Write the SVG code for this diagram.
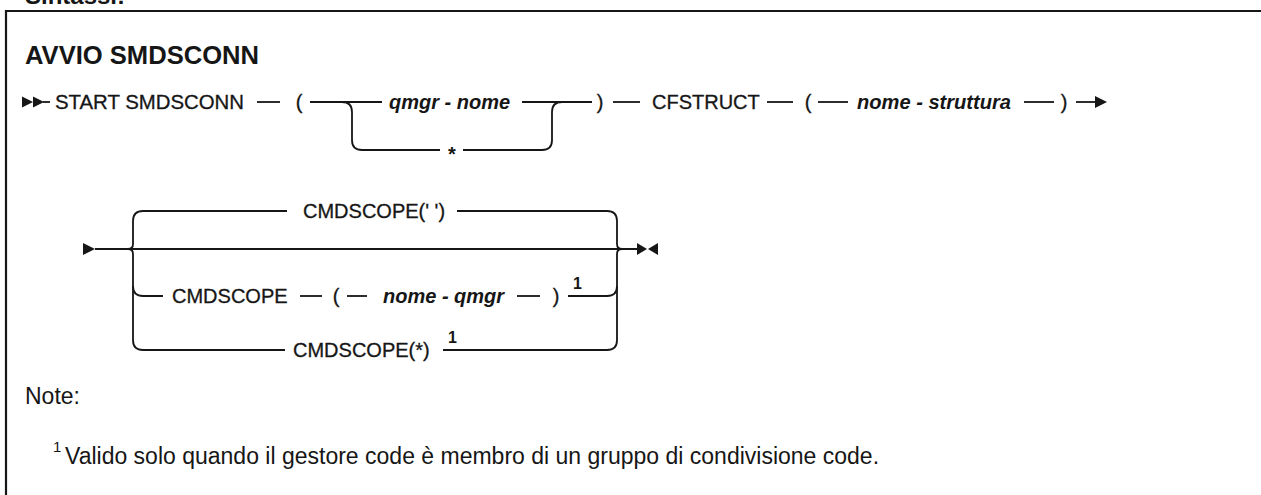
<svg xmlns="http://www.w3.org/2000/svg" width="1261" height="495" viewBox="0 0 1261 495">
<style>
text{font-family:"Liberation Sans",Arial,sans-serif;fill:#161616}
.t{font-size:20px;stroke:#161616;stroke-width:0.3}
.v{font-size:20px;font-weight:bold;font-style:italic}
.b{font-size:20px;font-weight:bold}
.sup{font-size:16px;font-weight:bold}
.ttl{font-size:25px;font-weight:bold}
.n{font-size:23px}
.ln{fill:none;stroke:#161616;stroke-width:1.8}
.ah{fill:#161616}
</style>
<rect width="1261" height="495" fill="#ffffff"/>
<text x="25" y="4" style="font-size:24px;font-weight:bold">Sintassi:</text>
<path d="M6,495 V11 H1261" fill="none" stroke="#161616" stroke-width="2.2"/>
<text class="ttl" x="25" y="64" textLength="234" lengthAdjust="spacingAndGlyphs">AVVIO SMDSCONN</text>

<g id="connectors">
  <polygon class="ah" points="22,96.5 33,102 22,107.5"/>
  <polygon class="ah" points="33,96.5 44,102 33,107.5"/>
  <path class="ln" d="M43,102 H50"/>
  <path class="ln" d="M257,102 H280"/>
  <path class="ln" d="M310,102 H382"/>
  <path class="ln" d="M342,102 q10,0 10,10 V140 q0,10 10,10 H440"/>
  <path class="ln" d="M463,150 H542 q10,0 10,-10 V112 q0,-10 10,-10"/>
  <path class="ln" d="M522,102 H592"/>
  <path class="ln" d="M613,102 H640"/>
  <path class="ln" d="M767,102 H793"/>
  <path class="ln" d="M818,102 H848"/>
  <path class="ln" d="M1024,102 H1054"/>
  <path class="ln" d="M1076,102 H1097"/>
  <polygon class="ah" points="1095,96 1107,102 1095,108"/>

  <polygon class="ah" points="83,243 95,249 83,255"/>
  <path class="ln" d="M95,249 H637"/>
  <path class="ln" d="M128,249 q5,0 5,-5 V221 q0,-10 10,-10 H287"/>
  <path class="ln" d="M457,211 H607 q10,0 10,10 V244 q0,5 5,5"/>
  <path class="ln" d="M128,249 q5,0 5,5 V340 q0,10 10,10 H285"/>
  <path class="ln" d="M133,286 q0,10 10,10 H163"/>
  <path class="ln" d="M300,296 H322"/>
  <path class="ln" d="M347,296 H367"/>
  <path class="ln" d="M517,296 H540"/>
  <path class="ln" d="M568,296 H607 q10,0 10,-10"/>
  <path class="ln" d="M443,350 H607 q10,0 10,-10 V254 q0,-5 5,-5"/>
  <polygon class="ah" points="637,243 647,249 637,255"/>
  <polygon class="ah" points="658,243 648,249 658,255"/>
</g>

<g id="node-start"><text class="t" x="55" y="109" textLength="189" lengthAdjust="spacingAndGlyphs">START SMDSCONN</text></g>
<g id="node-lp1"><text class="t" x="299" y="109" text-anchor="middle">(</text></g>
<g id="node-qmgr-nome"><text class="v" x="389" y="109">qmgr - nome</text></g>
<g id="node-star"><text class="b" x="452" y="161" text-anchor="middle">*</text></g>
<g id="node-rp1"><text class="t" x="600" y="109" text-anchor="middle">)</text></g>
<g id="node-cfstruct"><text class="t" x="652" y="109">CFSTRUCT</text></g>
<g id="node-lp2"><text class="t" x="808" y="109" text-anchor="middle">(</text></g>
<g id="node-nome-struttura"><text class="v" x="857" y="109" textLength="154" lengthAdjust="spacingAndGlyphs">nome - struttura</text></g>
<g id="node-rp2"><text class="t" x="1064" y="109" text-anchor="middle">)</text></g>

<g id="node-cmdscope-blank"><text class="t" x="303" y="218">CMDSCOPE(' ')</text></g>
<g id="node-cmdscope"><text class="t" x="172" y="303">CMDSCOPE</text></g>
<g id="node-lp3"><text class="t" x="336" y="303" text-anchor="middle">(</text></g>
<g id="node-nome-qmgr"><text class="v" x="383" y="303">nome - qmgr</text></g>
<g id="node-rp3"><text class="t" x="556" y="303" text-anchor="middle">)</text></g>
<g id="node-sup1"><text class="sup" x="573" y="289">1</text></g>
<g id="node-cmdscope-star"><text class="t" x="293" y="357">CMDSCOPE(*)</text></g>
<g id="node-sup2"><text class="sup" x="448" y="343">1</text></g>

<g id="notes">
  <text class="n" x="25" y="404">Note:</text>
  <text x="53" y="452" style="font-size:15px">1</text>
  <text class="n" x="65" y="464">Valido solo quando il gestore code è membro di un gruppo di condivisione code.</text>
</g>
</svg>
